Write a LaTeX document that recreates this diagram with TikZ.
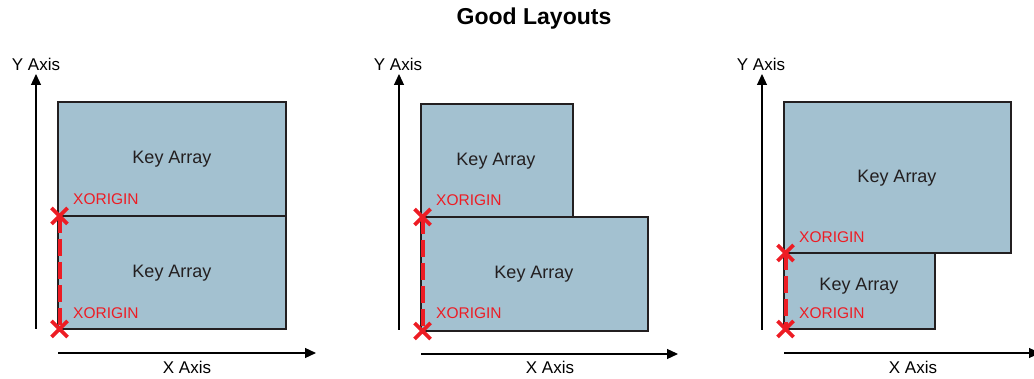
\documentclass[tikz,border=0pt]{standalone}
\usepackage{fontspec}
\setmainfont{Liberation Sans}
\usetikzlibrary{arrows.meta,calc}
\definecolor{boxfill}{RGB}{163,193,208}
\definecolor{xred}{RGB}{237,28,36}
\definecolor{boxline}{RGB}{35,31,32}
\tikzset{
  keybox/.style={draw=boxline, line width=1.3pt, fill=boxfill},
  axis/.style={draw=black, line width=1.2pt, -{Triangle[length=11pt,width=10pt]}},
  axlabel/.style={font=\fontsize{17}{20}\selectfont, inner sep=0pt},
  keylabel/.style={font=\fontsize{18}{21}\selectfont, text=boxline, inner sep=0pt},
  xolabel/.style={font=\fontsize{15.5}{18}\selectfont, text=xred, inner sep=0pt, anchor=west},
  xmark/.style={draw=xred, line width=3.6pt},
  reddash/.style={draw=xred, line width=4pt, dash pattern=on 17pt off 6pt},
}
\newcommand{\xmk}[1]{\draw[xmark] ($(#1)+(-8,-8)$) -- ($(#1)+(8,8)$) ($(#1)+(-8,8)$) -- ($(#1)+(8,-8)$);}
\begin{document}
\begin{tikzpicture}[x=1pt,y=-1pt]
\useasboundingbox (0,0) rectangle (1034,379);
\node[font=\bfseries\fontsize{23}{26}\selectfont, inner sep=0pt] (title) at (534,19) {Good Layouts};

% ---------- Panel 1 ----------
\path[keybox] (58,102) rectangle (286,216);
\path[keybox] (58,216) rectangle (286,329);
\node[keylabel] (ka1a) at (172,159) {Key Array};
\node[keylabel] (ka1b) at (172,273) {Key Array};
\coordinate (ya1s) at (36,329); \coordinate (ya1e) at (36,74);
\coordinate (xa1s) at (58,353); \coordinate (xa1e) at (316,353);
\draw[axis] (ya1s) -- (ya1e);
\draw[axis] (xa1s) -- (xa1e);
\node[axlabel] (yl1) at (36,64) {Y Axis};
\node[axlabel] (xl1) at (187,367) {X Axis};
\coordinate (o1a) at (59.5,216); \coordinate (o1b) at (59.5,329);
\draw[reddash] (o1a) -- (o1b);
\xmk{o1a}\xmk{o1b}
\node[xolabel] (xo1a) at (73,199) {XORIGIN};
\node[xolabel] (xo1b) at (73,313) {XORIGIN};

% ---------- Panel 2 ----------
\path[keybox] (421,104) rectangle (573,217);
\path[keybox] (421,217) rectangle (648,331);
\node[keylabel] (ka2a) at (496,161) {Key Array};
\node[keylabel] (ka2b) at (534,274) {Key Array};
\coordinate (ya2s) at (399,330); \coordinate (ya2e) at (399,74);
\coordinate (xa2s) at (421,354); \coordinate (xa2e) at (678,354);
\draw[axis] (ya2s) -- (ya2e);
\draw[axis] (xa2s) -- (xa2e);
\node[axlabel] (yl2) at (398,64) {Y Axis};
\node[axlabel] (xl2) at (550,367) {X Axis};
\coordinate (o2a) at (422.5,217); \coordinate (o2b) at (422.5,331);
\draw[reddash] (o2a) -- (o2b);
\xmk{o2a}\xmk{o2b}
\node[xolabel] (xo2a) at (436,200) {XORIGIN};
\node[xolabel] (xo2b) at (436,313) {XORIGIN};

% ---------- Panel 3 ----------
\path[keybox] (784,102) rectangle (1011,253);
\path[keybox] (784,253) rectangle (935,329);
\node[keylabel] (ka3a) at (897,178) {Key Array};
\node[keylabel] (ka3b) at (859,286) {Key Array};
\coordinate (ya3s) at (762,330); \coordinate (ya3e) at (762,74);
\coordinate (xa3s) at (784,353); \coordinate (xa3e) at (1040,353);
\draw[axis] (ya3s) -- (ya3e);
\draw[axis] (xa3s) -- (xa3e);
\node[axlabel] (yl3) at (761,64) {Y Axis};
\node[axlabel] (xl3) at (913,367) {X Axis};
\coordinate (o3a) at (785.5,253); \coordinate (o3b) at (785.5,329);
\draw[reddash] (o3a) -- (o3b);
\xmk{o3a}\xmk{o3b}
\node[xolabel] (xo3a) at (799,237) {XORIGIN};
\node[xolabel] (xo3b) at (799,313) {XORIGIN};
\end{tikzpicture}
\end{document}
